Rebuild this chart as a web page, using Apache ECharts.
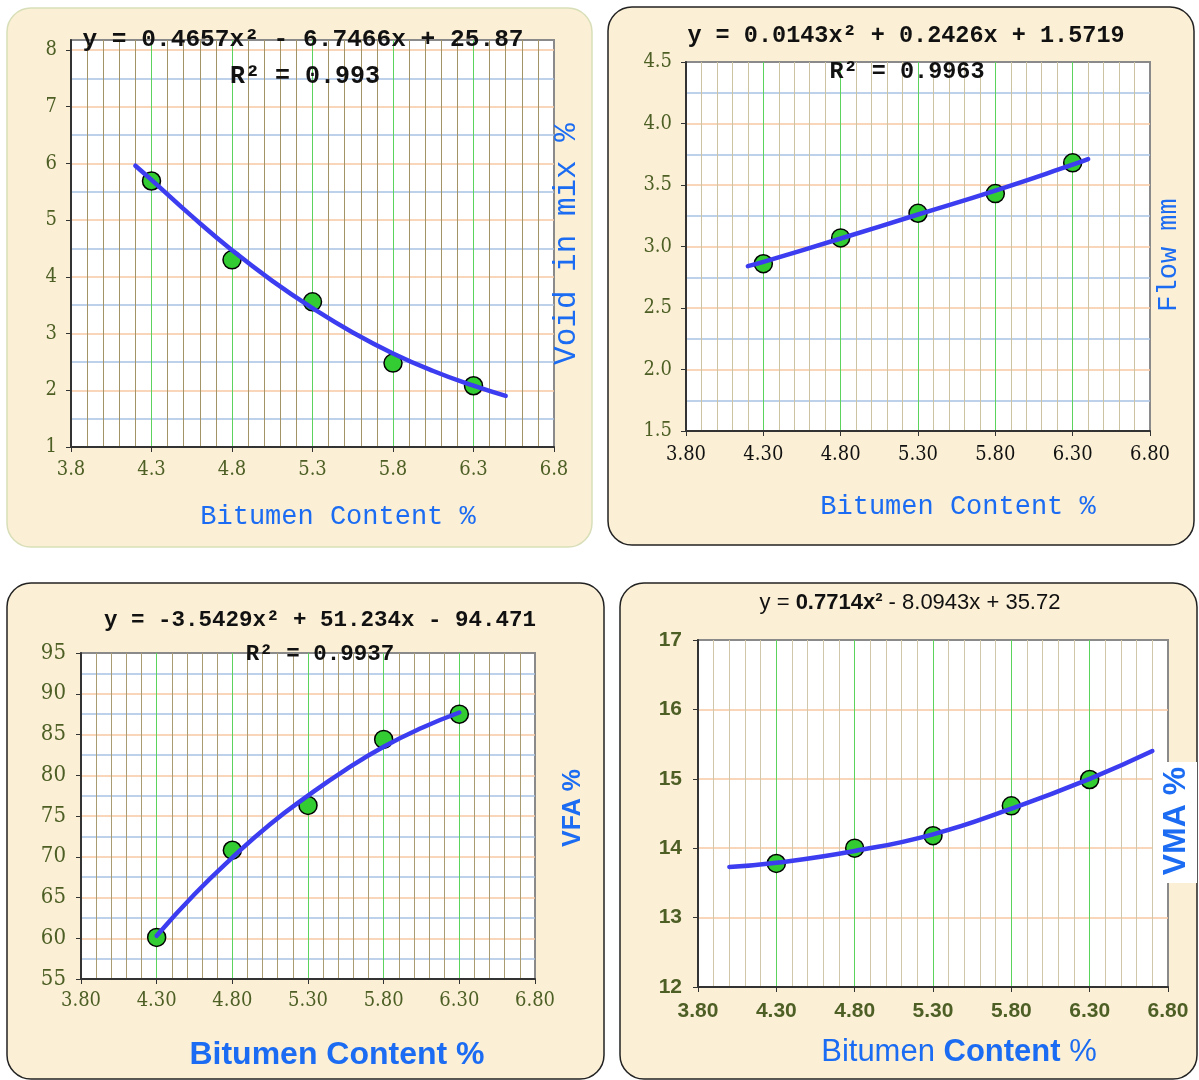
<!DOCTYPE html>
<html>
<head>
<meta charset="utf-8">
<title>Marshall design curves</title>
<script src="https://cdn.jsdelivr.net/npm/echarts@6/dist/echarts.min.js"></script>
<style>
  html, body { margin: 0; padding: 0; background: #fff; }
  #chart { width: 1199px; height: 1080px; }
</style>
</head>
<body>
<div id="chart"></div>
<script>
// measured values, one entry per bitumen content
var bitumen = [4.3, 4.8, 5.3, 5.8, 6.3];
var voidMix = [5.69, 4.30, 3.56, 2.48, 2.08];
var flow = [2.86, 3.07, 3.27, 3.43, 3.68];
var vfa = [60.1, 70.8, 76.3, 84.4, 87.5];
var vma = [13.78, 14.0, 14.18, 14.61, 14.99];

// trend lines
var voidTrendX = [4.2, 4.3, 4.55, 4.8, 5.05, 5.3, 5.55, 5.8, 6.05, 6.3, 6.5];
var voidTrendY = [5.96, 5.71, 5.07, 4.47, 3.93, 3.45, 3.02, 2.65, 2.34, 2.08, 1.9];
var flowTrendX = [4.2, 4.3, 4.8, 5.3, 5.8, 6.3, 6.4];
var flowTrendY = [2.84, 2.875, 3.065, 3.26, 3.455, 3.665, 3.71];
var vfaTrendX = [4.3, 4.55, 4.8, 5.05, 5.3, 5.55, 5.8, 6.05, 6.3];
var vfaTrendY = [60.3, 65.4, 69.9, 74.0, 77.5, 80.7, 83.5, 85.8, 87.7];
var vmaTrendX = [4.0, 4.3, 4.8, 5.3, 5.8, 6.3, 6.7];
var vmaTrendY = [13.73, 13.79, 13.96, 14.2, 14.57, 15.0, 15.4];

// equation / axis texts
var equations = [
    'y = 0.4657x² - 6.7466x + 25.87',
    'y = 0.0143x² + 0.2426x + 1.5719',
    'y = -3.5429x² + 51.234x - 94.471'
];
var rSquared = ['R² = 0.993', 'R² = 0.9963', 'R² = 0.9937'];
var xTitle = 'Bitumen Content %';
var yTitles = ['Void in mix %', 'Flow mm', 'VFA %', 'VMA %'];

var olive = '#4e5f26';
var blue = '#1b6cf2';
var mono = '"Liberation Mono", "DejaVu Sans Mono", monospace';
var serifNum = '"DejaVu Serif Condensed", "DejaVu Serif", serif';
var arial = '"Liberation Sans", Arial, sans-serif';

function pairs(xs, ys) {
    return xs.map(function(x, i) { return [x, ys[i]]; });
}

var panels = [
    {grid: {left: 71, top: 40, width: 483, height: 407}, yMin: 1, yMax: 8.176, yStep: 1, yMinor: 2, yDec: 0,
     xDec: 1, xColor: olive, minorColor: '#a39468', labelFont: serifNum, labelSize: 20, ySize: 20, labelWeight: 'normal',
     xMargin: 13, yMargin: 14, pts: voidMix, tx: voidTrendX, ty: voidTrendY},
    {grid: {left: 686, top: 62, width: 464, height: 369}, yMin: 1.5, yMax: 4.5, yStep: 0.5, yMinor: 2, yDec: 1,
     xDec: 2, xColor: '#111', minorColor: '#ccc3a3', labelFont: serifNum, labelSize: 20, ySize: 20, labelWeight: 'normal',
     xMargin: 14, yMargin: 14, pts: flow, tx: flowTrendX, ty: flowTrendY},
    {grid: {left: 81, top: 653, width: 454, height: 326}, yMin: 55, yMax: 95, yStep: 5, yMinor: 2, yDec: 0,
     xDec: 2, xColor: olive, minorColor: '#aa9c72', labelFont: serifNum, labelSize: 20, ySize: 22, labelWeight: 'normal',
     xMargin: 12, yMargin: 15, pts: vfa, tx: vfaTrendX, ty: vfaTrendY},
    {grid: {left: 698, top: 640, width: 470, height: 347}, yMin: 12, yMax: 17, yStep: 1, yMinor: 0, yDec: 0,
     xDec: 2, xColor: olive, minorColor: '#d0c7aa', labelFont: arial, labelSize: 21, ySize: 21, labelWeight: 'bold',
     xMargin: 14, yMargin: 16, pts: vma, tx: vmaTrendX, ty: vmaTrendY}
];

var grids = [], xAxes = [], yAxes = [], series = [];

panels.forEach(function(p, i) {
    grids.push({
        left: p.grid.left, top: p.grid.top, width: p.grid.width, height: p.grid.height,
        show: true, backgroundColor: '#fff', borderColor: '#8a8a8a', borderWidth: 2,
        outerBoundsMode: 'none'
    });
    xAxes.push({
        gridIndex: i, type: 'value', min: 3.8, max: 6.8, interval: 0.5,
        axisLine: {onZero: false, lineStyle: {color: '#333', width: 2}},
        axisTick: {show: true, length: 5, lineStyle: {color: '#333'}},
        axisLabel: {
            margin: p.xMargin, color: p.xColor, fontFamily: p.labelFont, fontSize: p.labelSize, fontWeight: p.labelWeight,
            formatter: function(v) { return v.toFixed(p.xDec); }
        },
        splitLine: {show: true, showMinLine: false, showMaxLine: false, lineStyle: {color: '#5cd35c', width: 1}},
        minorTick: {show: false, splitNumber: 5},
        minorSplitLine: {show: true, lineStyle: {color: p.minorColor, width: 1}}
    });
    yAxes.push({
        gridIndex: i, type: 'value', min: p.yMin, max: p.yMax, interval: p.yStep,
        axisLine: {onZero: false, lineStyle: {color: '#333', width: 2}},
        axisTick: {show: true, length: 5, lineStyle: {color: '#333'}},
        axisLabel: {
            margin: p.yMargin, color: olive, fontFamily: p.labelFont, fontSize: p.ySize,
            fontWeight: p.labelWeight, showMaxLabel: i === 0 ? false : null,
            formatter: function(v) {
                var k = Math.round(v / p.yStep);
                if (Math.abs(k * p.yStep - v) > 1e-6) return '';
                return v.toFixed(p.yDec);
            }
        },
        splitLine: {show: true, showMinLine: false, showMaxLine: false, lineStyle: {color: '#f7c9a2', width: 1.5}},
        minorTick: {show: false, splitNumber: p.yMinor || 5},
        minorSplitLine: {show: p.yMinor > 0, lineStyle: {color: '#a9c2e5', width: 1.5}}
    });
    series.push({
        type: 'scatter', xAxisIndex: i, yAxisIndex: i, silent: true, z: 3,
        data: pairs(bitumen, p.pts), symbol: 'circle', symbolSize: 18,
        itemStyle: {color: '#33cc33', borderColor: '#000', borderWidth: 1.5, opacity: 1}
    });
    series.push({
        type: 'line', xAxisIndex: i, yAxisIndex: i, silent: true, z: 4,
        data: pairs(p.tx, p.ty), smooth: true, symbol: 'none', showSymbol: false,
        lineStyle: {color: '#3c3cf0', width: 4.5, cap: 'round'}
    });
});

function panelRect(x, y, w, h, stroke) {
    return {
        type: 'rect', z: -10, silent: true,
        shape: {x: x, y: y, width: w, height: h, r: 24},
        style: {fill: '#fbf0d5', stroke: stroke, lineWidth: 1.5}
    };
}

function label(x, y, txt, family, size, color, weight, rot) {
    return {
        type: 'text', x: x, y: y, z: 100, silent: true, rotation: rot || 0,
        style: {
            text: txt, fontFamily: family, fontSize: size, fontWeight: weight || 'normal',
            fill: color, align: 'center', verticalAlign: 'middle'
        }
    };
}

var graphics = [
    panelRect(7, 8, 585, 539, '#d8dfb8'),
    panelRect(608, 7, 586, 538, '#222'),
    panelRect(7, 583, 597, 496, '#222'),
    panelRect(620, 583, 577, 496, '#222'),

    label(303, 40, equations[0], mono, 24.5, '#111', 'bold'),
    label(305, 77, rSquared[0], mono, 25, '#111', 'bold'),
    label(906, 36, equations[1], mono, 23.5, '#111', 'bold'),
    label(907, 72, rSquared[1], mono, 23.5, '#111', 'bold'),
    label(320, 620, equations[2], mono, 22.5, '#111', 'bold'),
    label(320, 654, rSquared[2], mono, 22.5, '#111', 'bold'),
    {
        type: 'text', x: 910, y: 603, z: 100, silent: true,
        style: {
            text: '{n|y = }{b|0.7714x²}{n| - 8.0943x + 35.72}',
            align: 'center', verticalAlign: 'middle',
            rich: {
                n: {fontFamily: arial, fontSize: 22, fill: '#111', color: '#111'},
                b: {fontFamily: arial, fontSize: 22, fontWeight: 'bold', fill: '#111', color: '#111'}
            }
        }
    },

    label(338, 517, xTitle, mono, 27, blue),
    label(958, 507, xTitle, mono, 27, blue),
    label(337, 1055, xTitle, arial, 32, blue, 'bold'),
    {
        type: 'text', x: 959, y: 1052, z: 100, silent: true,
        style: {
            text: '{n|Bitumen }{b|Content}{n| %}',
            align: 'center', verticalAlign: 'middle',
            rich: {
                n: {fontFamily: arial, fontSize: 31, fill: blue, color: blue},
                b: {fontFamily: arial, fontSize: 31, fontWeight: 'bold', fill: blue, color: blue}
            }
        }
    },

    label(567, 244, yTitles[0], mono, 31, blue, 'normal', Math.PI / 2),
    label(1169, 255, yTitles[1], mono, 27, blue, 'normal', Math.PI / 2),
    label(573, 808, yTitles[2], arial, 25, blue, 'bold', Math.PI / 2),
    {type: 'rect', z: 90, silent: true, shape: {x: 1153, y: 762, width: 44, height: 121}, style: {fill: '#fff'}},
    label(1176, 821, yTitles[3], arial, 32, blue, 'bold', Math.PI / 2)
];

var chart = echarts.init(document.getElementById('chart'));
chart.setOption({
    animation: false,
    backgroundColor: '#fff',
    grid: grids,
    xAxis: xAxes,
    yAxis: yAxes,
    series: series,
    graphic: graphics
});
</script>
</body>
</html>
